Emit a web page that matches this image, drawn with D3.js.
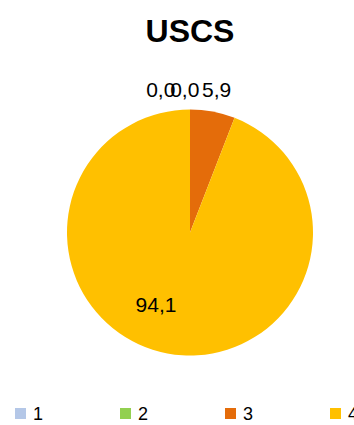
<!DOCTYPE html>
<html>
<head>
<meta charset="utf-8">
<script src="https://cdn.jsdelivr.net/npm/d3@7"></script>
<style>
  body { margin: 0; background: #fff; }
  text { font-family: "Liberation Sans", Arial, sans-serif; fill: #000; }
</style>
</head>
<body>
<div id="chart"></div>
<script>
const categories = ["1", "2", "3", "4"];
const values = [0.0, 0.0, 5.9, 94.1];
const colors = ["#B4C7E7", "#92D050", "#E46C0A", "#FFC000"];
const chartTitle = "USCS";

const width = 354, height = 425;
const cx = 190, cy = 232.5, radius = 123;

const svg = d3.select("#chart")
    .append("svg")
    .attr("width", width)
    .attr("height", height);

svg.append("text")
    .attr("x", cx)
    .attr("y", 42)
    .attr("text-anchor", "middle")
    .style("font-size", "32px")
    .style("font-weight", "bold")
    .text(chartTitle);

const data = categories.map((c, i) => ({name: c, value: values[i], color: colors[i]}));

const pie = d3.pie().sort(null).value(d => d.value);
const arcs = pie(data);

const arc = d3.arc().innerRadius(0).outerRadius(radius);
const innerLabelArc = d3.arc().innerRadius(radius * 0.6).outerRadius(radius * 0.6);
const outerLabelArc = d3.arc().innerRadius(radius + 22).outerRadius(radius + 22);

const g = svg.append("g")
    .attr("transform", "translate(" + cx + "," + cy + ")");

g.selectAll("path")
    .data(arcs)
    .enter()
    .append("path")
    .attr("fill", d => d.data.color)
    .attr("d", arc);

// labels: big slice inside, small ones outside
const fmt = v => v.toFixed(1).replace(".", ",");
const labelSize = 21;

// outside labels, pushed left when they collide (like excel best fit)
const outside = arcs.filter(d => d.data.value < 50);
let pos = outside.map(d => {
    const c = outerLabelArc.centroid(d);
    return {d: d, x: c[0], y: c[1]};
});
for (let i = pos.length - 2; i >= 0; i--) {
    const w = 32;
    const step = i === pos.length - 2 ? w : w * 0.75;
    if (pos[i].x > pos[i + 1].x - step) pos[i].x = pos[i + 1].x - step;
    pos[i].y = pos[i + 1].y;
}

g.selectAll("text.out")
    .data(pos)
    .enter()
    .append("text")
    .attr("class", "out")
    .attr("x", p => p.x)
    .attr("y", p => p.y)
    .attr("text-anchor", "middle")
    .attr("dy", "0.35em")
    .style("font-size", labelSize + "px")
    .text(p => fmt(p.d.data.value));

g.selectAll("text.in")
    .data(arcs.filter(d => d.data.value >= 50))
    .enter()
    .append("text")
    .attr("class", "in")
    .attr("transform", d => "translate(" + innerLabelArc.centroid(d) + ")")
    .attr("text-anchor", "end")
    .attr("dy", "0.35em")
    .style("font-size", labelSize + "px")
    .text(d => fmt(d.data.value));

// legend
const legendX = d3.scalePoint().domain(categories).range([15, 330]);
const legend = svg.append("g")
    .selectAll("g")
    .data(data)
    .enter()
    .append("g")
    .attr("transform", d => "translate(" + legendX(d.name) + ",408)");

legend.append("rect")
    .attr("width", 11)
    .attr("height", 11)
    .attr("fill", d => d.color);

legend.append("text")
    .attr("x", 18)
    .attr("y", 12)
    .style("font-size", "18px")
    .text(d => d.name);
</script>
</body>
</html>
